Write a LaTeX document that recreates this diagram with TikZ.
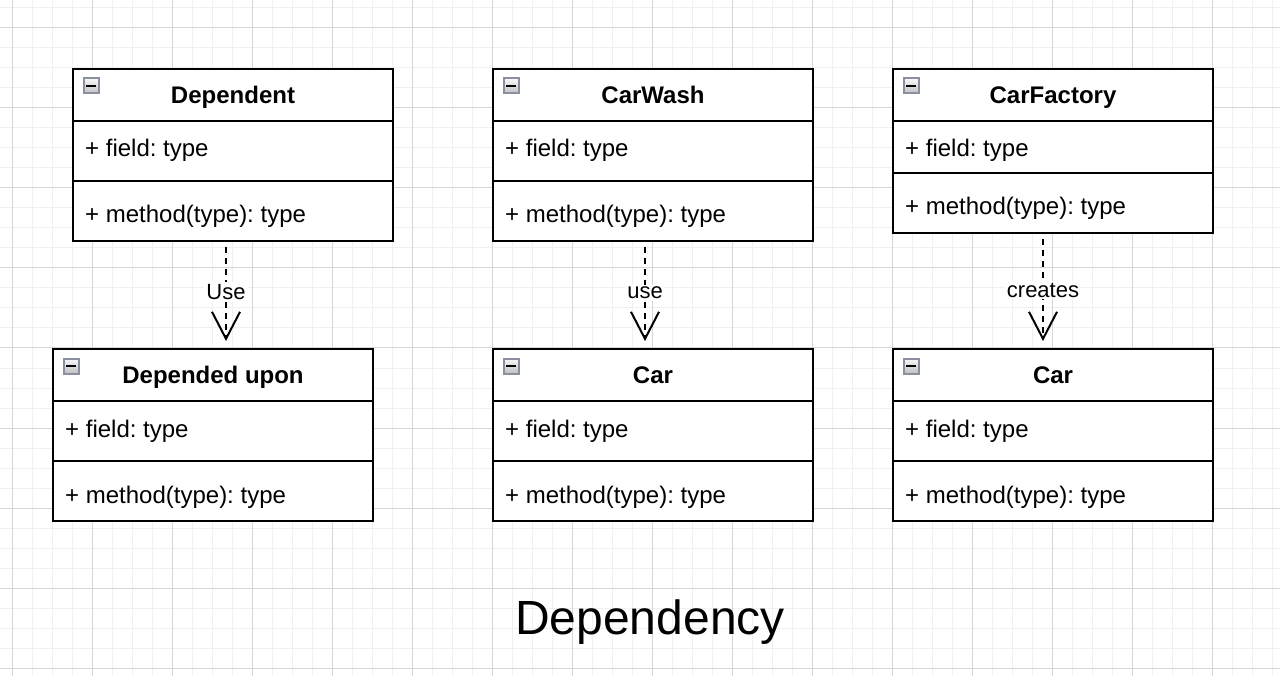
\documentclass[tikz,border=0pt]{standalone}
\usepackage{fontspec}
\setmainfont{Liberation Sans}
\usetikzlibrary{arrows.meta,calc}
\frenchspacing
\definecolor{minorgrid}{HTML}{F0F0F0}
\definecolor{majorgrid}{HTML}{D6D6D6}
\definecolor{iconedge}{HTML}{8A90A0}
\tikzset{
  minorline/.style={draw=minorgrid, line width=1pt},
  majorline/.style={draw=majorgrid, line width=1pt},
  classbox/.style={draw=black, line width=2pt, fill=white, rectangle, outer sep=0pt, minimum width=320pt, anchor=north west, inner sep=0pt},
  sepline/.style={draw=black, line width=2pt},
  titletext/.style={font=\fontsize{24pt}{28pt}\selectfont\bfseries, anchor=base, inner sep=0pt},
  membertext/.style={font=\fontsize{24pt}{28pt}\selectfont, anchor=base west, inner sep=0pt},
  iconbox/.style={draw=iconedge, line width=2pt, top color=gray!5, bottom color=gray!50, minimum width=15pt, minimum height=15pt, inner sep=0pt, rectangle},
  depline/.style={draw=black, line width=2pt, dash pattern=on 6pt off 5pt, -{Straight Barb[length=27pt, width=28pt, line width=2pt]}},
  lbl/.style={font=\fontsize{22pt}{26pt}\selectfont, fill=white, inner sep=2pt},
  bigtitle/.style={font=\fontsize{48pt}{56pt}\selectfont, anchor=base, inner sep=0pt}
}
% #1 name, #2 x, #3 y, #4 title, #5 field section height
\newcommand\umlclassbox[5]{%
  \node[classbox, minimum height={(112+#5)*1pt}] (#1) at (#2,#3) {};
  \draw[sepline] (#2,#3+52) -- (#2+320,#3+52);
  \draw[sepline] (#2,#3+52+#5) -- (#2+320,#3+52+#5);
  \node[iconbox] (#1-icon) at (#2+18,#3+17) {};
  \draw[black, line width=2.5pt] ($(#1-icon.center)+(-5,0)$) -- ($(#1-icon.center)+(5,0)$);
  \node[titletext] (#1-title) at (#2+160,#3+35) {#4};
  \node[membertext] (#1-field) at (#2+12,#3+88) {+ field: type};
  \node[membertext] (#1-method) at (#2+12,#3+52+#5+42) {+ method(type): type};
}
\begin{document}
\begin{tikzpicture}[x=1pt,y=-1pt]
  \fill[white] (0,0) rectangle (1280,676);
  \useasboundingbox (0,0) rectangle (1280,676);
  \foreach \x in {12,32,...,1272} \draw[minorline] (\x,0) -- (\x,676);
  \foreach \y in {8,28,...,668} \draw[minorline] (0,\y) -- (1280,\y);
  \foreach \x in {12,92,...,1272} \draw[majorline] (\x,0) -- (\x,676);
  \foreach \y in {28,108,...,668} \draw[majorline] (0,\y) -- (1280,\y);

  \umlclassbox{dep}{73}{69}{Dependent}{60}
  \umlclassbox{dup}{53}{349}{Depended upon}{60}
  \umlclassbox{wash}{493}{69}{CarWash}{60}
  \umlclassbox{carA}{493}{349}{Car}{60}
  \umlclassbox{factory}{893}{69}{CarFactory}{52}
  \umlclassbox{carB}{893}{349}{Car}{60}

  \draw[depline] ($(dep.south)+(-7,6)$) -- ($(dup.north)+(13,-8)$) node[lbl, pos=0.48] (use1) {Use};
  \draw[depline] ($(wash.south)+(-8,6)$) -- ($(carA.north)+(-8,-8)$) node[lbl, pos=0.49] (use2) {use};
  \draw[depline] ($(factory.south)+(-10,6)$) -- ($(carB.north)+(-10,-8)$) node[lbl, pos=0.5] (creates) {creates};

  \node[bigtitle] (title) at (650,634) {Dependency};
\end{tikzpicture}
\end{document}
